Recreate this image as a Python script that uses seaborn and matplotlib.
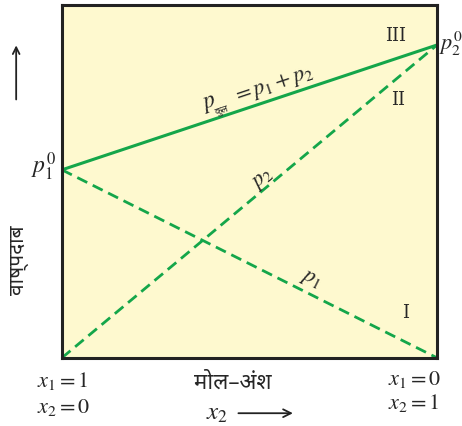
import matplotlib
matplotlib.use("Agg")
import matplotlib.pyplot as plt
import seaborn as sns
import pandas as pd

# mole fraction of component 2, and pressures (relative units)
x2 = [0.0, 1.0]
p1 = [0.533, 0.0]
p2 = [0.0, 0.887]
p_total = [0.533, 0.887]

green = "#14a64a"
sns.set_theme(style="white")
plt.rcParams["font.family"] = ["DejaVu Serif", "Noto Sans", "DejaVu Sans"]
plt.rcParams["mathtext.fontset"] = "stix"

df = pd.DataFrame({"x2": x2, "p1": p1, "p2": p2, "ptot": p_total})

fig = plt.figure(figsize=(4.62, 4.26), dpi=100)
ax = fig.add_axes([0.134, 0.160, 0.812, 0.828])
ax.set_facecolor("#fef9cf")

sns.lineplot(data=df, x="x2", y="ptot", ax=ax, color=green, lw=2.2)
sns.lineplot(data=df, x="x2", y="p1", ax=ax, color=green, lw=2.0)
sns.lineplot(data=df, x="x2", y="p2", ax=ax, color=green, lw=2.0)
for ln in ax.lines[1:]:
    ln.set_dashes([4, 2.2])

ax.set_xlim(0, 1)
ax.set_ylim(0, 1)
ax.set_xticks([])
ax.set_yticks([])
ax.set_xlabel("")
ax.set_ylabel("")
for s in ax.spines.values():
    s.set_color("#222222")
    s.set_linewidth(2.2)

# line labels
ang = 18.4
ax.text(0.393, 0.722, r"$p$", rotation=ang, fontsize=17, ha="center", va="center")
ax.text(0.428, 0.700, "कुल", rotation=ang, fontsize=7, ha="center", va="center",
        family=["Noto Sans", "DejaVu Sans"])
ax.text(0.565, 0.772, r"$= p_1 + p_2$", rotation=ang, fontsize=16, ha="center", va="center")
ax.text(0.535, 0.51, r"$p_2$", rotation=40, fontsize=16, ha="center", va="center")
ax.text(0.665, 0.225, r"$p_1$", rotation=-26.6, fontsize=16, ha="center", va="center")
ax.text(0.89, 0.912, "III", fontsize=13, ha="center", va="center")
ax.text(0.897, 0.73, "II", fontsize=13, ha="center", va="center")
ax.text(0.915, 0.127, "I", fontsize=13, ha="center", va="center")
ax.text(-0.015, 0.54, r"$p_1^0$", fontsize=17, ha="right", va="center", transform=ax.transAxes)
ax.text(1.005, 0.89, r"$p_2^0$", fontsize=16, ha="left", va="center", transform=ax.transAxes)

# axis annotations
fig.text(0.04, 0.39, "वाष्पदाब", rotation=90, fontsize=15, ha="center", va="center",
         family=["Noto Sans", "DejaVu Sans"])
fig.patches.append(matplotlib.patches.FancyArrowPatch(
    (0.035, 0.76), (0.035, 0.9), transform=fig.transFigure, arrowstyle="->",
    mutation_scale=12, color="#222222", lw=1.3))
fig.text(0.08, 0.105, r"$x_1 = 1$", fontsize=16, ha="left", va="center")
fig.text(0.08, 0.045, r"$x_2 = 0$", fontsize=16, ha="left", va="center")
fig.text(0.84, 0.11, r"$x_1 = 0$", fontsize=16, ha="left", va="center")
fig.text(0.84, 0.055, r"$x_2 = 1$", fontsize=16, ha="left", va="center")
fig.text(0.505, 0.1, "मोल–अंश", fontsize=16, ha="center", va="center",
         family=["Noto Sans", "DejaVu Sans"])
fig.text(0.47, 0.03, r"$x_2$", fontsize=18, ha="center", va="center")
fig.patches.append(matplotlib.patches.FancyArrowPatch(
    (0.51, 0.03), (0.64, 0.03), transform=fig.transFigure, arrowstyle="->",
    mutation_scale=14, color="#222222", lw=1.3))

fig.savefig("out.png", dpi=100, facecolor="white")
